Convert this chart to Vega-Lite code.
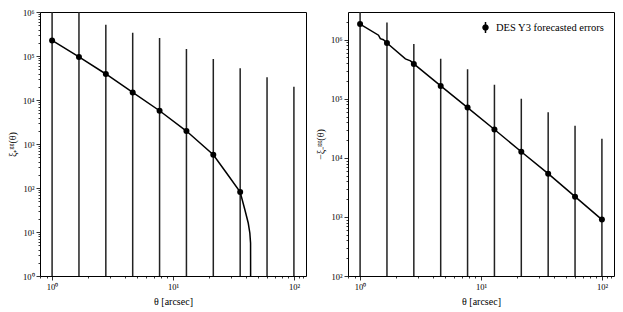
{
  "$schema": "https://vega.github.io/schema/vega-lite/v6.json",
  "padding": {"left": 7, "top": 7, "right": 5, "bottom": 5},
  "background": "white",
  "config": {
    "font": "Liberation Serif",
    "view": {"stroke": "black", "strokeWidth": 1},
    "axis": {
      "grid": false,
      "domain": false,
      "tickColor": "black",
      "tickWidth": 0.8,
      "labelColor": "black",
      "titleColor": "black",
      "labelFont": "Liberation Serif",
      "titleFont": "Liberation Serif",
      "labelFontSize": 8.5,
      "titleFontSize": 10,
      "titleFontWeight": "normal",
      "labelPadding": 2,
      "labelOverlap": false,
      "labelFlush": false,
      "labelBound": false
    }
  },
  "datasets": {
    "pts": [
      {"theta": 1.0, "xip": 226000, "xip_hi": 1500000, "xip_lo": 0.01, "xim": 1840000, "xim_hi": 4000000, "xim_lo": 1},
      {"theta": 1.6681, "xip": 95000, "xip_hi": 1200000, "xip_lo": 0.01, "xim": 880000, "xim_hi": 1960000, "xim_lo": 1},
      {"theta": 2.7826, "xip": 39000, "xip_hi": 510000, "xip_lo": 0.01, "xim": 389000, "xim_hi": 846000, "xim_lo": 1},
      {"theta": 4.6416, "xip": 14900, "xip_hi": 339000, "xip_lo": 0.01, "xim": 165000, "xim_hi": 477000, "xim_lo": 1},
      {"theta": 7.7426, "xip": 5700, "xip_hi": 257000, "xip_lo": 0.01, "xim": 71000, "xim_hi": 315000, "xim_lo": 1},
      {"theta": 12.915, "xip": 1970, "xip_hi": 144000, "xip_lo": 0.01, "xim": 30200, "xim_hi": 172000, "xim_lo": 1},
      {"theta": 21.544, "xip": 571, "xip_hi": 85000, "xip_lo": 0.01, "xim": 12700, "xim_hi": 99600, "xim_lo": 1},
      {"theta": 35.938, "xip": 81, "xip_hi": 53000, "xip_lo": 0.01, "xim": 5400, "xim_hi": 59000, "xim_lo": 1},
      {"theta": 59.948, "xip": null, "xip_hi": 32700, "xip_lo": 0.01, "xim": 2200, "xim_hi": 35000, "xim_lo": 1},
      {"theta": 100.0, "xip": null, "xip_hi": 20000, "xip_lo": 0.01, "xim": 900, "xim_hi": 21000, "xim_lo": 1}
    ],
    "curve_p": [
      {"theta": 1.0, "xi": 226000},
      {"theta": 1.6681, "xi": 95000},
      {"theta": 2.7826, "xi": 39000},
      {"theta": 4.6416, "xi": 14900},
      {"theta": 7.7426, "xi": 5700},
      {"theta": 12.915, "xi": 1970},
      {"theta": 21.544, "xi": 571},
      {"theta": 28.0, "xi": 211},
      {"theta": 35.938, "xi": 81},
      {"theta": 39.3, "xi": 32},
      {"theta": 41.9, "xi": 16},
      {"theta": 43.2, "xi": 9.5},
      {"theta": 43.8, "xi": 5.6},
      {"theta": 43.85, "xi": 1},
      {"theta": 43.9, "xi": 0.01}
    ],
    "curve_m": [
      {"theta": 1.0, "xi": 1840000},
      {"theta": 1.42, "xi": 1190000},
      {"theta": 1.47, "xi": 1040000},
      {"theta": 1.56, "xi": 1000000},
      {"theta": 1.6681, "xi": 880000},
      {"theta": 2.37, "xi": 472000},
      {"theta": 2.61, "xi": 437000},
      {"theta": 2.7826, "xi": 389000},
      {"theta": 4.6416, "xi": 165000},
      {"theta": 7.7426, "xi": 71000},
      {"theta": 12.915, "xi": 30200},
      {"theta": 21.544, "xi": 12700},
      {"theta": 35.938, "xi": 5400},
      {"theta": 59.948, "xi": 2200},
      {"theta": 100.0, "xi": 900}
    ]
  },
  "spacing": 8,
  "resolve": {"legend": {"color": "independent"}, "scale": {"color": "independent"}},
  "hconcat": [
    {
      "width": 266,
      "height": 264,
      "layer": [
        {
          "data": {"name": "pts"},
          "mark": {"type": "rule", "color": "#222", "strokeWidth": 1.5, "clip": true},
          "encoding": {
            "x": {"field": "theta", "type": "quantitative", "scale": {"type": "log", "domain": [0.7943, 125.89], "nice": false},
              "axis": {
                "title": "θ [arcsec]",
                "values": [0.8, 0.9, 1, 2, 3, 4, 5, 6, 7, 8, 9, 10, 20, 30, 40, 50, 60, 70, 80, 90, 100, 110, 120],
                "labelExpr": "abs(log(datum.value)/LN10 - round(log(datum.value)/LN10)) < 1e-6 ? '10' + substring('⁰¹²³⁴⁵⁶⁷⁸⁹', round(log(datum.value)/LN10), round(log(datum.value)/LN10) + 1) : ''",
                "tickSize": {"condition": {"test": "abs(log(datum.value)/LN10 - round(log(datum.value)/LN10)) < 1e-6", "value": 4}, "value": 2},
                "titlePadding": 6
              }},
            "y": {"field": "xip_lo", "type": "quantitative", "scale": {"type": "log", "domain": [1, 1000000], "nice": false},
              "axis": {
                "title": "ξ₊ᵍᵍ(θ)",
                "values": [1, 2, 3, 4, 5, 6, 7, 8, 9, 10, 20, 30, 40, 50, 60, 70, 80, 90, 100, 200, 300, 400, 500, 600, 700, 800, 900, 1000, 2000, 3000, 4000, 5000, 6000, 7000, 8000, 9000, 10000, 20000, 30000, 40000, 50000, 60000, 70000, 80000, 90000, 100000, 200000, 300000, 400000, 500000, 600000, 700000, 800000, 900000, 1000000],
                "labelExpr": "abs(log(datum.value)/LN10 - round(log(datum.value)/LN10)) < 1e-6 ? '10' + substring('⁰¹²³⁴⁵⁶⁷⁸⁹', round(log(datum.value)/LN10), round(log(datum.value)/LN10) + 1) : ''",
                "tickSize": {"condition": {"test": "abs(log(datum.value)/LN10 - round(log(datum.value)/LN10)) < 1e-6", "value": 4}, "value": 2},
                "titlePadding": 5
              }},
            "y2": {"field": "xip_hi"}
          }
        },
        {
          "data": {"name": "curve_p"},
          "mark": {"type": "line", "color": "black", "strokeWidth": 1.5, "clip": true},
          "encoding": {
            "x": {"field": "theta", "type": "quantitative"},
            "y": {"field": "xi", "type": "quantitative"}
          }
        },
        {
          "data": {"name": "pts"},
          "mark": {"type": "point", "filled": true, "color": "black", "size": 36, "opacity": 1, "clip": true},
          "encoding": {
            "x": {"field": "theta", "type": "quantitative"},
            "y": {"field": "xip", "type": "quantitative"}
          }
        }
      ]
    },
    {
      "width": 266,
      "height": 264,
      "layer": [
        {
          "data": {"name": "pts"},
          "mark": {"type": "rule", "color": "#222", "strokeWidth": 1.5, "clip": true},
          "encoding": {
            "x": {"field": "theta", "type": "quantitative", "scale": {"type": "log", "domain": [0.7943, 125.89], "nice": false},
              "axis": {
                "title": "θ [arcsec]",
                "values": [0.8, 0.9, 1, 2, 3, 4, 5, 6, 7, 8, 9, 10, 20, 30, 40, 50, 60, 70, 80, 90, 100, 110, 120],
                "labelExpr": "abs(log(datum.value)/LN10 - round(log(datum.value)/LN10)) < 1e-6 ? '10' + substring('⁰¹²³⁴⁵⁶⁷⁸⁹', round(log(datum.value)/LN10), round(log(datum.value)/LN10) + 1) : ''",
                "tickSize": {"condition": {"test": "abs(log(datum.value)/LN10 - round(log(datum.value)/LN10)) < 1e-6", "value": 4}, "value": 2},
                "titlePadding": 6
              }},
            "y": {"field": "xim_lo", "type": "quantitative", "scale": {"type": "log", "domain": [100, 2940000], "nice": false},
              "axis": {
                "title": "−ξ₋ᵍᵍ(θ)",
                "values": [100, 200, 300, 400, 500, 600, 700, 800, 900, 1000, 2000, 3000, 4000, 5000, 6000, 7000, 8000, 9000, 10000, 20000, 30000, 40000, 50000, 60000, 70000, 80000, 90000, 100000, 200000, 300000, 400000, 500000, 600000, 700000, 800000, 900000, 1000000, 2000000],
                "labelExpr": "abs(log(datum.value)/LN10 - round(log(datum.value)/LN10)) < 1e-6 ? '10' + substring('⁰¹²³⁴⁵⁶⁷⁸⁹', round(log(datum.value)/LN10), round(log(datum.value)/LN10) + 1) : ''",
                "tickSize": {"condition": {"test": "abs(log(datum.value)/LN10 - round(log(datum.value)/LN10)) < 1e-6", "value": 4}, "value": 2},
                "titlePadding": 5
              }},
            "y2": {"field": "xim_hi"}
          }
        },
        {
          "data": {"name": "curve_m"},
          "mark": {"type": "line", "color": "black", "strokeWidth": 1.5, "clip": true},
          "encoding": {
            "x": {"field": "theta", "type": "quantitative"},
            "y": {"field": "xi", "type": "quantitative"}
          }
        },
        {
          "data": {"name": "pts"},
          "mark": {"type": "point", "filled": true, "size": 36, "opacity": 1, "clip": true},
          "encoding": {
            "x": {"field": "theta", "type": "quantitative"},
            "y": {"field": "xim", "type": "quantitative"},
            "color": {
              "datum": "DES Y3 forecasted errors",
              "type": "nominal",
              "scale": {"range": ["black"]},
              "legend": {
                "title": null,
                "orient": "top-right",
                "offset": 9,
                "padding": 0,
                "labelFont": "Liberation Serif",
                "labelFontSize": 10.5,
                "labelColor": "black",
                "labelOffset": 4,
                "symbolType": "M0,-1L0,1M-0.45,0A0.45,0.45,0,1,1,0.45,0A0.45,0.45,0,1,1,-0.45,0Z",
                "symbolSize": 121,
                "symbolFillColor": "black",
                "symbolStrokeColor": "black",
                "symbolStrokeWidth": 1.5,
                "symbolOpacity": 1
              }
            }
          }
        }
      ]
    }
  ]
}
